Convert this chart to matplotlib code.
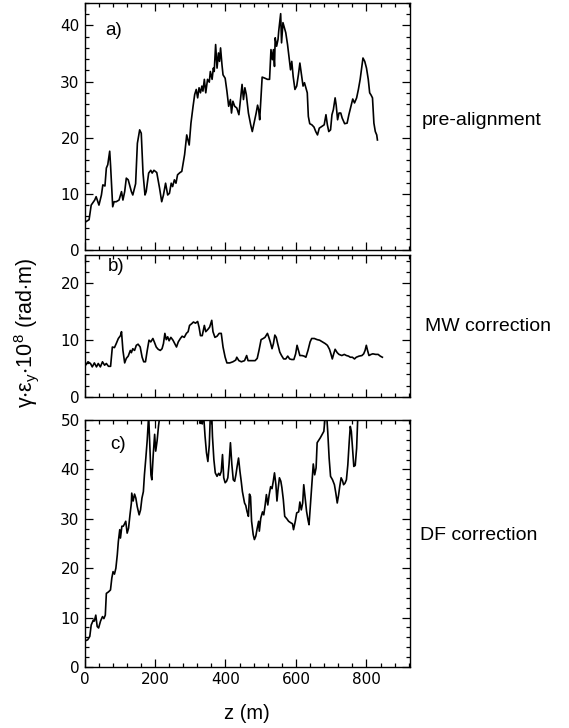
import matplotlib
matplotlib.use('Agg')
import matplotlib.pyplot as plt
from matplotlib.ticker import MultipleLocator

plt.rcParams['mathtext.fontset'] = 'custom'
plt.rcParams['mathtext.rm'] = 'Liberation Sans'
plt.rcParams['mathtext.it'] = 'Liberation Sans:italic'

# a) pre-alignment
a_z = [3, 13, 19, 29, 33, 41, 48, 52, 58, 62,
       66, 71.5, 74, 80, 84, 90, 98, 105, 109, 114,
       118.6, 124, 133, 137, 145, 150, 156.5, 161, 166, 171.6,
       175, 182, 188, 192, 197, 205, 213, 219, 224, 230,
       236, 241, 246, 250, 255, 259.5, 264, 271, 276, 284,
       290, 297, 302, 308, 312.6, 317, 321, 325, 329, 333,
       336, 340, 344, 349, 354, 357, 362, 365.5, 368, 372,
       376, 380, 383, 386, 390, 393, 399, 404, 409, 414,
       417, 421, 426, 432, 438, 443, 447, 451, 455, 459,
       465, 471.5, 476, 481, 487, 491, 494, 497, 501, 504,
       512, 519, 525, 529, 533, 536, 539, 541, 545, 549,
       551, 556.5, 559, 563, 567, 571, 576, 581, 584.5, 588,
       592, 597, 602, 607, 611, 615, 620, 624, 628, 632,
       635, 639, 645, 651, 656, 661, 666, 673, 680, 685,
       689, 693, 698, 702, 706, 711, 714, 718, 722, 727,
       731, 738, 745, 750, 756, 761, 766, 772, 777, 782,
       787, 790, 795, 800, 805, 809, 813, 817, 821, 825,
       829, 831]
a_v = [5.0, 5.4, 8.0, 8.9, 9.5, 8.0, 9.8, 11.6, 11.4, 14.6,
       15.2, 17.6, 15.0, 7.7, 8.6, 8.6, 8.9, 10.4, 8.9, 10.4,
       12.8, 12.5, 10.4, 9.8, 11.8, 19.0, 21.4, 20.8, 13.7, 9.8,
       10.4, 13.7, 14.2, 13.7, 14.2, 13.8, 11.0, 8.6, 9.8, 11.9,
       9.8, 10.1, 11.9, 11.3, 12.5, 11.9, 13.4, 13.8, 14.0, 17.0,
       20.5, 18.7, 22.6, 25.6, 27.7, 28.6, 27.1, 28.9, 28.0, 29.2,
       28.3, 30.4, 28.0, 30.4, 29.9, 31.8, 30.4, 32.4, 31.8, 36.6,
       32.4, 35.1, 33.6, 36.0, 33.0, 31.2, 30.6, 28.3, 25.6, 26.8,
       24.4, 26.5, 25.6, 25.3, 24.1, 27.1, 29.5, 26.8, 28.9, 27.7,
       24.4, 22.3, 21.1, 22.6, 24.4, 25.8, 25.0, 23.2, 27.4, 30.8,
       30.6, 30.4, 30.4, 35.7, 33.9, 35.7, 32.7, 37.8, 36.3, 37.5,
       39.0, 42.1, 36.9, 40.5, 39.6, 38.7, 36.6, 33.9, 32.1, 33.6,
       30.9, 28.6, 29.2, 31.3, 33.3, 31.5, 29.2, 29.8, 28.9, 28.0,
       23.8, 22.5, 22.3, 21.9, 21.1, 20.5, 21.7, 22.0, 22.3, 24.1,
       22.3, 21.1, 21.4, 24.1, 25.0, 27.1, 25.8, 23.2, 24.4, 24.4,
       23.5, 22.5, 22.6, 24.1, 25.6, 26.9, 26.2, 27.1, 28.6, 30.4,
       32.7, 34.2, 33.6, 32.4, 30.4, 28.0, 27.6, 27.1, 22.6, 21.1,
       20.5, 19.6]

# b) MW correction
b_z = [3, 10, 17, 22, 28, 34, 39, 45, 51, 57,
       62, 68, 74, 79, 85, 90, 96, 102, 105, 109,
       114, 118.6, 124, 130, 133, 137, 142, 147, 152, 158,
       163.5, 168, 173, 178, 183, 188, 194, 198, 203.5, 209,
       215, 220, 224, 228, 232, 236, 240, 245, 251, 256,
       261, 266, 272, 277, 283, 289, 294, 298, 304, 309,
       315, 321, 325, 329, 334, 340, 344, 350, 355, 361,
       364.5, 370, 376, 382, 388, 393, 399, 404, 412, 421,
       429, 432, 438, 445, 454, 460, 464, 470, 478, 484,
       490, 495, 501, 507, 512, 519, 523, 527, 532, 536,
       540, 544, 548, 554, 559, 565, 571, 576.5, 582, 588,
       594, 599, 603, 607, 611, 617, 623, 628, 634, 640,
       644.5, 652, 660, 667, 675, 683, 689, 695, 699, 703,
       707, 711, 717, 722, 730, 737, 743, 749, 754, 760,
       766, 771, 779, 787, 792, 796, 799.5, 803, 807, 813,
       818, 826, 833, 839, 845]
b_v = [5.6, 6.2, 5.9, 5.3, 6.0, 5.3, 5.9, 5.3, 6.2, 5.6,
       5.9, 5.4, 5.4, 8.8, 8.7, 9.4, 10.3, 10.8, 11.5, 8.2,
       6.0, 6.8, 7.2, 8.2, 7.8, 8.5, 8.2, 9.1, 9.3, 8.8,
       7.0, 6.2, 6.2, 8.2, 10.0, 9.7, 10.3, 9.7, 8.8, 8.4,
       8.2, 8.5, 9.4, 11.2, 10.1, 10.6, 9.9, 10.5, 10.0, 9.4,
       8.8, 9.7, 10.3, 10.7, 10.5, 11.2, 11.5, 12.6, 12.9, 13.2,
       13.0, 13.3, 12.3, 10.8, 10.8, 12.6, 11.5, 11.9, 12.3, 13.5,
       11.5, 10.5, 10.7, 11.2, 11.2, 8.8, 7.0, 6.0, 6.0, 6.2,
       6.5, 7.0, 6.4, 6.2, 6.4, 7.3, 6.4, 6.4, 6.4, 6.4,
       6.8, 8.2, 10.1, 10.3, 10.5, 11.2, 10.5, 9.7, 8.5, 9.4,
       10.9, 10.5, 9.4, 7.9, 7.3, 6.7, 6.7, 7.2, 6.7, 6.6,
       6.6, 7.6, 9.1, 8.2, 7.3, 7.3, 7.2, 7.0, 8.2, 9.7,
       10.3, 10.3, 10.1, 10.0, 9.7, 9.4, 9.1, 8.4, 7.6, 6.7,
       7.6, 8.4, 7.8, 7.5, 7.3, 7.5, 7.3, 7.2, 7.0, 7.0,
       6.7, 7.0, 7.2, 7.3, 7.6, 8.2, 9.1, 8.2, 7.3, 7.5,
       7.6, 7.5, 7.5, 7.2, 7.0]

# c) DF correction (goes above 50 in places)
c_z = [2, 9, 15, 19, 25, 28, 32, 36, 40, 45.5,
       51, 55, 59, 62, 68, 73.7, 77.5, 81, 85, 89,
       93, 96, 100, 102, 106, 110, 113, 117, 121, 125,
       129, 133, 134, 138, 142, 145.6, 149.5, 155, 159, 163,
       167, 170, 174, 178, 182, 185.5, 188.5, 191, 195, 199,
       202, 206, 210, 214, 240, 270, 300, 325, 328, 331,
       334, 337, 342, 346, 350, 354, 357, 361, 363, 367,
       371, 376, 380.5, 384, 388, 391.5, 395, 399, 403, 406.6,
       410, 414, 418, 422, 426, 429.5, 433, 437, 441, 444.6,
       448, 454, 457.5, 461, 465, 468, 471, 474, 478.6, 482,
       486, 490, 494, 496, 500, 505, 508.6, 512.5, 516, 520,
       524, 528, 532, 535.5, 539, 543, 546, 549, 553, 557,
       560, 564, 568, 574, 579, 585, 590, 593, 598, 602,
       607.6, 611, 615, 619, 622, 626, 630, 634, 637, 641,
       645, 649, 653, 657, 660, 669, 679, 683, 687, 690,
       694, 698, 703.6, 709, 713, 717, 721, 724, 728, 732,
       735, 739, 743, 747, 751, 754, 757, 761, 764, 768,
       772, 774, 776]
c_v = [5.3, 5.5, 6.2, 8.5, 9.5, 9.3, 10.5, 8.2, 7.9, 9.3,
       10.2, 9.8, 10.5, 14.9, 15.2, 15.6, 18.0, 19.3, 18.8, 20.0,
       22.7, 25.4, 27.8, 26.1, 28.5, 28.5, 28.9, 29.5, 27.1, 28.1,
       30.8, 33.2, 35.2, 33.6, 35.0, 34.2, 32.5, 30.8, 31.8, 34.2,
       35.5, 38.9, 42.3, 46.0, 51.0, 44.3, 38.9, 37.9, 43.0, 47.1,
       43.7, 45.8, 48.8, 51.0, 58.0, 62.0, 58.0, 52.0, 49.3, 49.8,
       49.2, 52.0, 46.7, 43.4, 41.6, 44.9, 51.0, 51.0, 46.7, 42.0,
       39.3, 38.6, 39.2, 38.8, 39.6, 43.0, 38.3, 37.3, 37.6, 38.3,
       41.0, 45.4, 41.0, 37.9, 37.6, 38.9, 40.6, 42.3, 39.6, 37.6,
       35.5, 33.2, 32.7, 31.5, 30.5, 35.0, 34.5, 29.5, 26.8, 25.8,
       26.5, 28.1, 29.5, 27.5, 30.1, 31.4, 30.8, 32.8, 34.9, 32.8,
       34.9, 36.5, 36.1, 37.6, 39.3, 36.9, 33.6, 35.9, 38.3, 37.6,
       36.3, 33.9, 30.5, 30.0, 29.5, 29.2, 29.0, 27.8, 29.5, 31.2,
       31.4, 33.4, 31.8, 33.2, 36.9, 34.2, 31.5, 29.8, 28.8, 32.9,
       36.9, 41.1, 38.9, 40.3, 45.4, 46.4, 47.7, 51.0, 51.0, 47.7,
       42.3, 38.6, 37.9, 36.9, 35.2, 33.2, 34.9, 36.5, 38.3, 37.7,
       36.9, 37.2, 37.9, 40.9, 45.6, 48.7, 47.7, 43.7, 40.6, 40.8,
       44.3, 48.3, 52.0]

panel_tags = ['a)', 'b)', 'c)']
side_labels = ['pre-alignment', 'MW correction', 'DF correction']
y_tops = [44, 25, 50]

fig = plt.figure(figsize=(5.69, 7.28), dpi=100)
left, width = 84.5 / 569, 325 / 569
ax_a = fig.add_axes([left, 1 - 250 / 728, width, 247 / 728])
ax_b = fig.add_axes([left, 1 - 397 / 728, width, 142 / 728])
ax_c = fig.add_axes([left, 1 - 667 / 728, width, 247 / 728])
axes = [ax_a, ax_b, ax_c]

for ax, z, v in zip(axes, [a_z, b_z, c_z], [a_v, b_v, c_v]):
    ax.plot(z, v, color='black', lw=1.2)

tag_pos = [(0.064, 0.887), (0.073, 0.919), (0.078, 0.899)]
label_y = [120.7, 326.7, 536]
label_x = [421.7, 425, 420]

for i, ax in enumerate(axes):
    ax.set_xlim(0, 922)
    ax.set_ylim(0, y_tops[i])
    ax.xaxis.set_major_locator(MultipleLocator(200))
    ax.xaxis.set_minor_locator(MultipleLocator(40))
    ax.yaxis.set_major_locator(MultipleLocator(10))
    ax.yaxis.set_minor_locator(MultipleLocator(2))
    ax.tick_params(which='both', direction='in', top=True, right=True,
                   width=0.9, labelsize=11)
    ax.tick_params(which='major', length=6)
    ax.tick_params(which='minor', length=3)
    for sp in ax.spines.values():
        sp.set_linewidth(1.0)
    if i < 2:
        ax.set_xticklabels([])
    ax.text(tag_pos[i][0], tag_pos[i][1], panel_tags[i], transform=ax.transAxes,
            fontsize=13.5, family='Liberation Sans', va='center', ha='left')
    fig.text(label_x[i] / 569, 1 - label_y[i] / 728, side_labels[i],
             fontsize=14, family='Liberation Sans', va='center', ha='left')

ax_c.set_xlabel('z (m)', fontsize=14.5, family='Liberation Sans', labelpad=12)
fig.text(27 / 569, 1 - 333 / 728,
         r'$\mathregular{\gamma{\cdot}\varepsilon_y{\cdot}10^8}$ (rad$\cdot$m)',
         rotation=90, fontsize=15.5, family='Liberation Sans',
         va='center', ha='center')

fig.savefig('out.png', dpi=100)
